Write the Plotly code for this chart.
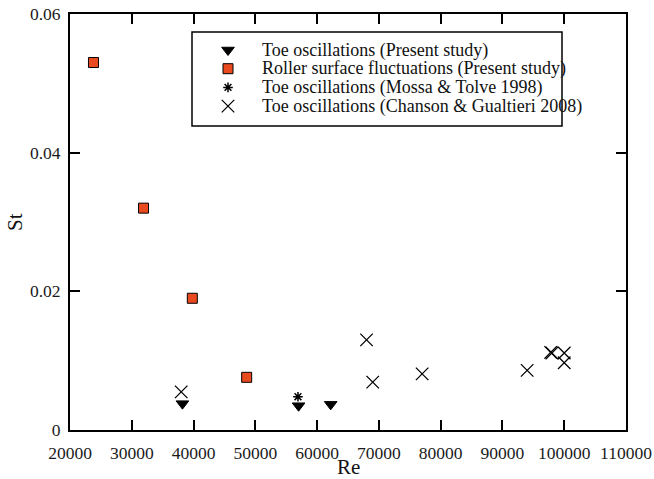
import plotly.graph_objects as go

# ---- data -------------------------------------------------------------
toe_present_re = [38200, 57000, 62200]
toe_present_st = [0.0038, 0.0035, 0.0037]

roller_re = [23800, 31900, 39800, 48600]
roller_st = [0.0530, 0.0320, 0.0190, 0.0076]

mossa_re = [56900]
mossa_st = [0.0048]

chanson_re = [38000, 68000, 69000, 77000, 94000, 97800, 98000, 100000, 100000]
chanson_st = [0.0055, 0.0130, 0.0069, 0.0081, 0.0086, 0.0112, 0.0111, 0.0111, 0.0097]

x_ticks = [20000, 30000, 40000, 50000, 60000, 70000, 80000, 90000, 100000, 110000]
y_ticks = [0, 0.02, 0.04, 0.06]
y_tick_text = ["0", "0.02", "0.04", "0.06"]

names = [
    "Toe oscillations (Present study)",
    "Roller surface fluctuations (Present study)",
    "Toe oscillations (Mossa & Tolve 1998)",
    "Toe oscillations (Chanson & Gualtieri 2008)",
]

# ---- styling ----------------------------------------------------------
W, H = 654, 479
ML, MR, MT, MB = 70, 28, 14, 49
PW, PH = W - ML - MR, H - MT - MB
FONT = "Liberation Serif"
ORANGE = "#ea4a1f"

styles = [
    dict(symbol="triangle-down", size=11, color="black", line=dict(color="black", width=1)),
    dict(symbol="square", size=10, color=ORANGE, line=dict(color="black", width=1)),
    dict(symbol="asterisk", size=8, color="black", line=dict(color="black", width=1.5)),
    dict(symbol="x-thin", size=12.5, color="black", line=dict(color="black", width=1.3)),
]
series = [
    (toe_present_re, toe_present_st),
    (roller_re, roller_st),
    (mossa_re, mossa_st),
    (chanson_re, chanson_st),
]

fig = go.Figure()
for (xs, ys), st, nm in zip(series, styles, names):
    fig.add_trace(go.Scatter(x=xs, y=ys, mode="markers", name=nm,
                             marker=st, showlegend=False, cliponaxis=False))

# ---- legend box drawn on a pixel-unit overlay axis --------------------
box = dict(x0=122, x1=492, y0=18, y1=112)
row0, row_gap = 36, 18.7
sym_x, text_x = 158, 191
for i, (st, nm) in enumerate(zip(styles, names)):
    ry = row0 + i * row_gap
    fig.add_trace(go.Scatter(x=[sym_x], y=[ry], mode="markers", marker=st,
                             xaxis="x2", yaxis="y2", showlegend=False,
                             hoverinfo="skip", cliponaxis=False))
    fig.add_annotation(x=text_x, y=ry, xref="x2", yref="y2", text=nm,
                       showarrow=False, xanchor="left", yanchor="middle",
                       borderpad=0,
                       font=dict(family=FONT, size=18, color="#111"))
fig.add_shape(type="rect", xref="x2", yref="y2", layer="above",
              line=dict(color="black", width=1.5), **box)

# ---- axis titles ------------------------------------------------------
fig.add_annotation(x=0.5, y=0, xref="paper", yref="paper", text="Re",
                   showarrow=False, xanchor="center", yanchor="middle", yshift=-37,
                   font=dict(family=FONT, size=21, color="#111"))
fig.add_annotation(x=0, y=0.5, xref="paper", yref="paper", text="St",
                   showarrow=False, xanchor="center", yanchor="middle", xshift=-55,
                   textangle=-90, font=dict(family=FONT, size=21, color="#111"))

axis_common = dict(showgrid=False, zeroline=False, showline=True, linecolor="black",
                   linewidth=2, mirror="allticks", ticks="inside", ticklen=10,
                   tickwidth=2, tickcolor="black", automargin=False,
                   tickfont=dict(family=FONT, size=17.5, color="#1a1a1a"))

fig.update_layout(
    width=W, height=H,
    margin=dict(l=ML, r=MR, t=MT, b=MB, pad=0, autoexpand=False),
    paper_bgcolor="white", plot_bgcolor="white",
    showlegend=False,
    xaxis=dict(range=[20000, 110000], tickvals=x_ticks,
               ticktext=[str(v) for v in x_ticks], ticklabelstandoff=6, **axis_common),
    yaxis=dict(range=[0, 0.06], tickvals=y_ticks, ticktext=y_tick_text,
               ticklabelstandoff=4, **axis_common),
    xaxis2=dict(range=[0, PW], overlaying="x", anchor="y2", visible=False),
    yaxis2=dict(range=[PH, 0], overlaying="y", anchor="x2", visible=False),
)

fig.write_html("out.html")
